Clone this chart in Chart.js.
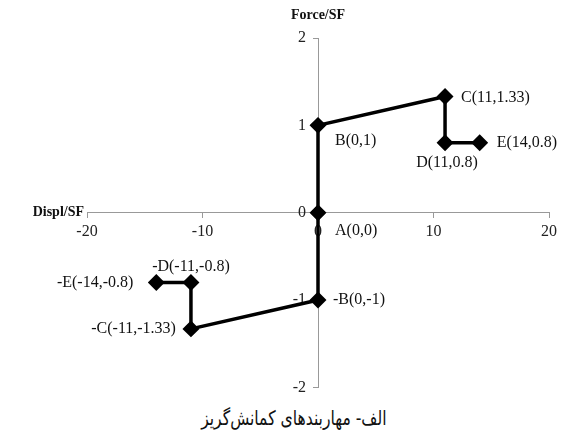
<!DOCTYPE html>
<html>
<head>
<meta charset="utf-8">
<script src="https://cdn.jsdelivr.net/npm/chart.js@4/dist/chart.umd.min.js"></script>
<style>
  body { margin: 0; background: #fff; }
  #wrap { position: relative; width: 573px; height: 400px; }
  #caption {
    position: absolute; left: 0; top: 403px; width: 588px;
    text-align: center; white-space: nowrap; line-height: 30px;
    font-family: "DejaVu Sans", sans-serif; font-size: 20px; color: #111;
  }
  #caption span { display: inline-block; direction: rtl; transform: scaleX(0.78); }
</style>
</head>
<body>
<div id="wrap"><canvas id="chart"></canvas></div>
<div id="caption"><span>الف- مهاربندهای کمانش‌گریز</span></div>
<script>
// backbone curve points, in drawing order
const displ = [-14, -11, -11, 0, 0, 0, 11, 11, 14];
const force = [-0.8, -0.8, -1.33, -1, 0, 1, 1.33, 0.8, 0.8];
const pointNames = ['-E(-14,-0.8)', '-D(-11,-0.8)', '-C(-11,-1.33)', '-B(0,-1)', 'A(0,0)', 'B(0,1)', 'C(11,1.33)', 'D(11,0.8)', 'E(14,0.8)'];
// where each label sits relative to its point: [dx, dy, align]
const labelPlace = [
  [-23, 0, 'right'], [0, -16, 'center'], [-15, 0, 'right'], [15, 0, 'left'],
  [17, 18, 'left'], [17, 15, 'left'], [16, 1, 'left'], [2, 20, 'center'], [17, 0, 'left']
];
const xTicks = [-20, -10, 0, 10, 20];
const yTicks = [-2, -1, 0, 1, 2];
const xTitle = 'Displ/SF';
const yTitle = 'Force/SF';

const serif = "'Times New Roman', 'Liberation Serif', serif";

const labelsPlugin = {
  id: 'pointLabels',
  afterDatasetsDraw(chart) {
    const c = chart.ctx;
    const meta = chart.getDatasetMeta(0);
    c.save();
    c.font = '16px ' + serif;
    c.fillStyle = '#111';
    c.textBaseline = 'middle';
    meta.data.forEach((pt, i) => {
      const [dx, dy, al] = labelPlace[i];
      c.textAlign = al;
      c.fillText(pointNames[i], pt.x + dx, pt.y + dy);
    });
    // axis titles
    const xs = chart.scales.x, ys = chart.scales.y;
    c.font = 'bold 14px ' + serif;
    c.textAlign = 'right';
    c.fillText(xTitle, xs.left - 3, ys.getPixelForValue(0));
    c.textAlign = 'center';
    c.fillText(yTitle, xs.getPixelForValue(0), 15);
    c.restore();
  }
};

new Chart(document.getElementById('chart'), {
  type: 'scatter',
  data: {
    datasets: [{
      data: displ.map((x, i) => ({ x, y: force[i] })),
      showLine: true,
      borderColor: '#000',
      backgroundColor: '#000',
      borderWidth: 3.5,
      pointStyle: 'rectRot',
      pointRadius: 6,
      pointHoverRadius: 6
    }]
  },
  options: {
    responsive: true,
    maintainAspectRatio: false,
    animation: false,
    layout: { padding: { left: 87, right: 24, top: 38, bottom: 10 } },
    plugins: { legend: { display: false }, tooltip: { enabled: false } },
    scales: {
      x: {
        type: 'linear',
        position: { y: 0 },
        min: -20, max: 20,
        afterBuildTicks: s => { s.ticks = xTicks.map(v => ({ value: v })); },
        grid: { drawOnChartArea: false, drawTicks: true, tickLength: 5, color: '#999' },
        border: { color: '#999', width: 1 },
        ticks: { color: '#222', font: { family: serif, size: 16 }, padding: 4, maxRotation: 0 }
      },
      y: {
        type: 'linear',
        position: { x: 0 },
        min: -2, max: 2,
        afterBuildTicks: s => { s.ticks = yTicks.map(v => ({ value: v })); },
        grid: { drawOnChartArea: false, drawTicks: true, tickLength: 5, color: '#999' },
        border: { color: '#999', width: 1 },
        // centred axes put labels right on the line, so pad with spaces
        ticks: { color: '#222', font: { family: serif, size: 16 }, callback: v => v + '   ' }
      }
    }
  },
  plugins: [labelsPlugin]
});
</script>
</body>
</html>
